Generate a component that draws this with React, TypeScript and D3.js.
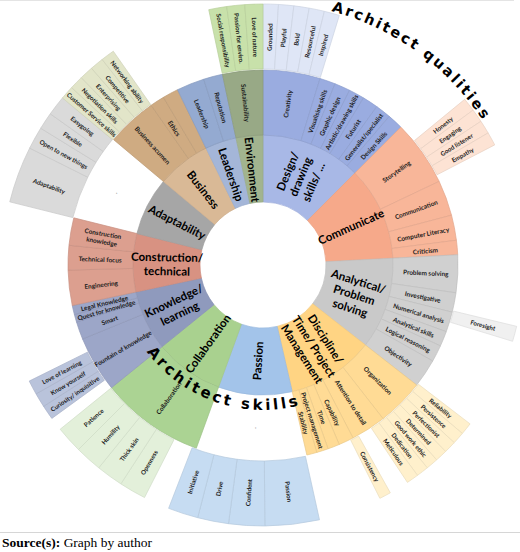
import React from 'react';
import * as d3 from 'd3';

const W = 520;
const H = 552;
const CX = 263;
const CY = 265;
const R0 = 63;
const R1 = 130;
const R2 = 195;
const R3 = 261;

// Level 1 – skill groups (clockwise from 12 o'clock)
const categories = [
  'Design/|drawing|skills/ ...', 'Communicate', 'Analytical/|Problem|solving',
  'Discipline/|Time/ Project|Management', 'Passion', 'Collaboration', 'Knowledge/|learning',
  'Construction/|technical', 'Adaptability', 'Business', 'Leadership', 'Environment'];
const categorySpans = [45, 42, 41, 39, 33, 31, 27, 26, 26, 24, 14, 12];
const ring1Colors = ['#a8b8e6', '#f6a98a', '#c9c9c9', '#ffd483', '#a3c4ea', '#a9d18f', '#8f9abd', '#d89282', '#a6a6a6', '#d9b996', '#a4b6d8', '#a2b48f'];
const ring2Colors = ['#9aace0', '#f8b699', '#d0d0d0', '#ffdb95', '#a3c4ea', '#abd393', '#9ca6c8', '#dc9f8f', '#a6a6a6', '#cfab82', '#94aad1', '#98a986'];
const ring3Colors = ['#dfe6f6', '#fde3d4', '#f0f0f0', '#fff0cc', '#c6dcf2', '#e3f0da', '#b9c3db', '#f0d6cf', '#dadada', '#e2e5c9', '#dbe3f1', '#c8e1aa'];

// Level 2 – skills
const skills = [
  'Creativity', 'Visualising skills', 'Graphic design', 'Artistic/drawing skills', 'Futurist', 'Generalist/specialist', 'Design Skills',
  'Storytelling', 'Communication', 'Computer Literacy', 'Criticism',
  'Problem solving', 'Investigative', 'Numerical analysis', 'Analytical skills', 'Logical reasoning', 'Objectivity',
  'Organization', 'Attention to detail', 'Capability', 'Time', 'Project management', 'Stability',
  '.',
  'Collaboration',
  'Fountain of knowledge', 'Smart', 'Quest for knowledge', 'Legal Knowledge',
  'Engineering', 'Technical focus', 'Construction|knowledge',
  '.',
  'Business acumen', 'Ethics', '',
  'Leadership', 'Reputation',
  'Sustainability'];
const skillSpans = [
  17, 4.67, 4.67, 4.67, 4.67, 4.66, 4.66,
  19.6, 10.6, 7.5, 4.3,
  11.2, 5.8, 6, 4.5, 5, 8.5,
  14, 10.5, 4.5, 3.5, 3.5, 3,
  33,
  31,
  16.7, 5.3, 2.3, 2.7,
  10.5, 7.3, 8.2,
  26,
  15, 4.3, 4.7,
  8.3, 5.7,
  12];
const skillGroups = [
  0, 0, 0, 0, 0, 0, 0,
  1, 1, 1, 1,
  2, 2, 2, 2, 2, 2,
  3, 3, 3, 3, 3, 3,
  -1,
  5,
  6, 6, 6, 6,
  7, 7, 7,
  -1,
  9, 9, 9,
  10, 10,
  11];

// Level 3 – qualities ('' = empty gap)
const qualities = [
  'Grounded', 'Playful', 'Bold', 'Resourceful', 'Inspired', '',
  'Honesty', 'Engaging', 'Good listener', 'Empathy', '',
  'Foresight', '',
  'Reliability', 'Persistence', 'Perfectionist', 'Determined', 'Good work ethic', 'Dedication', 'Meticulous', '',
  'Consistency', '',
  'Passion', 'Confident', 'Drive', 'Initiative', '',
  'Openness', 'Thick skin', 'Humility', 'Patience', '',
  'Curiosity/ inquisitive', 'Know yourself', 'Love of learning', '',
  'Adaptability', 'Open to new things', 'Flexible', 'Easygoing',
  'Customer Service skills', 'Negotiation skills', 'Enterprising', 'Competitive', 'Networking ability', '',
  'Social responsibility', 'Passion for enviro.', 'Love of nature'];
const qualitySpans = [
  3.4, 3.4, 3.4, 3.4, 3.4, 33.6,
  3, 3, 3, 3, 41,
  3.4, 20.5,
  2.7, 2.7, 2.7, 2.7, 2.7, 2.7, 2.7, 4.4,
  2.6, 14.1,
  12.1, 8, 6.9, 6.7, 5.8,
  6, 6, 6, 6, 3,
  3.2, 3.2, 3.2, 40.4,
  12.6, 5, 3.8, 4.4,
  3.04, 3.04, 3.04, 3.04, 3.04, 23,
  4, 4, 4];
const qualityGroups = [
  0, 0, 0, 0, 0, -1,
  1, 1, 1, 1, -1,
  2, -1,
  3, 3, 3, 3, 3, 3, 3, -1,
  3, -1,
  4, 4, 4, 4, -1,
  5, 5, 5, 5, -1,
  6, 6, 6, -1,
  8, 8, 8, 8,
  9, 9, 9, 9, 9, -1,
  11, 11, 11];

type Seg = { label: string; group: number; a0: number; a1: number };

function layout(labels: string[], spans: number[], groups: number[]): Seg[] {
  const pie = d3.pie<number>().sort(null).value((d) => d).startAngle(0).endAngle(2 * Math.PI).padAngle(0);
  const arcs = pie(spans);
  return arcs.map((a, i) => ({ label: labels[i], group: groups[i], a0: a.startAngle, a1: a.endAngle }));
}

function labelTransform(a0: number, a1: number, r: number) {
  const a = (a0 + a1) / 2;
  const x = CX + r * Math.sin(a);
  const y = CY - r * Math.cos(a);
  const deg = (a * 180) / Math.PI;
  const rot = deg < 180 ? deg - 90 : deg - 270;
  return `translate(${x.toFixed(2)},${y.toFixed(2)}) rotate(${rot.toFixed(2)})`;
}

function arcPath(r: number, degFrom: number, degTo: number, ccw: boolean) {
  const p = d3.path();
  const t0 = ((degFrom - 90) * Math.PI) / 180;
  const t1 = ((degTo - 90) * Math.PI) / 180;
  p.moveTo(CX + r * Math.cos(t0), CY + r * Math.sin(t0));
  p.arc(CX, CY, r, t0, t1, ccw);
  return p.toString();
}

function MultiLine({ text, lh }: { text: string; lh: number }) {
  const lines = text.split('|');
  return (
    <>
      {lines.map((l, i) => (
        <tspan key={i} x={0} y={(i - (lines.length - 1) / 2) * lh}>{l}</tspan>
      ))}
    </>
  );
}

export default function App() {
  const ring1 = layout(categories, categorySpans, categorySpans.map((_, i) => i));
  const ring2 = layout(skills, skillSpans, skillGroups);
  const ring3 = layout(qualities, qualitySpans, qualityGroups);

  const arc1 = d3.arc<any>().innerRadius(R0).outerRadius(R1);
  const arc2 = d3.arc<any>().innerRadius(R1).outerRadius(R2);
  const arc3 = d3.arc<any>().innerRadius(R2 + 1).outerRadius(R3);

  const mk = (s: Seg) => ({ startAngle: s.a0, endAngle: s.a1 });
  const stroke = (c: string, k: number) => (d3.color(c) as any).darker(k).formatHex();

  return (
    <svg width={W} height={H} style={{ position: 'absolute', left: 0, top: 0, background: '#fff' }}>
      <defs>
        <path id="qualPath" d={arcPath(263, 0, 72, false)} />
        <path id="skillPath" d={arcPath(145, 250, 148, true)} />
      </defs>
      <line x1={0} x2={514} y1={0.5} y2={0.5} stroke="#e4e4e4" />
      <line x1={0} x2={520} y1={532.5} y2={532.5} stroke="#d6d6d6" />
      <g>
        {ring1.map((s, i) => (
          <path key={'r1' + i} transform={`translate(${CX},${CY})`} d={arc1(mk(s)) as string}
            fill={ring1Colors[s.group]} stroke={stroke(ring1Colors[s.group], 0.15)} strokeWidth={0.7} />
        ))}
        {ring2.map((s, i) => s.group < 0 ? null : (
          <path key={'r2' + i} transform={`translate(${CX},${CY})`} d={arc2(mk(s)) as string}
            fill={ring2Colors[s.group]} stroke={stroke(ring2Colors[s.group], 0.25)} strokeWidth={0.7} />
        ))}
        {ring3.map((s, i) => s.group < 0 ? null : (
          <path key={'r3' + i} transform={`translate(${CX},${CY})`} d={arc3(mk(s)) as string}
            fill={ring3Colors[s.group]} stroke={stroke(ring3Colors[s.group], 0.25)} strokeWidth={0.7} />
        ))}
      </g>
      <g fontFamily="Lato, 'Open Sans', sans-serif" fill="#000" textAnchor="middle" dominantBaseline="central">
        {ring1.map((s, i) => (
          <text key={'l1' + i} transform={labelTransform(s.a0, s.a1, 96)} fontSize={11.5} fontWeight={700}>
            <MultiLine text={s.label} lh={14} />
          </text>
        ))}
        {ring2.map((s, i) => s.label === '' ? null : (
          <text key={'l2' + i} transform={labelTransform(s.a0, s.a1, 163)} fontSize={6.4} fontWeight={700}
            fill={s.group < 0 ? '#888' : '#1a1a1a'}>
            <MultiLine text={s.label} lh={8} />
          </text>
        ))}
        {ring3.map((s, i) => s.group < 0 || s.label === '' ? null : (
          <text key={'l3' + i} transform={labelTransform(s.a0, s.a1, 228)} fontSize={6.2} fontWeight={700} fill="#1a1a1a">
            {s.label}
          </text>
        ))}
      </g>
      <g fontFamily="'DejaVu Sans', sans-serif" fontWeight={700} fill="#000">
        <text fontSize={14.5} letterSpacing={2.2}>
          <textPath href="#qualPath" startOffset="50%" textAnchor="middle">Architect qualities</textPath>
        </text>
        <text fontSize={15} letterSpacing={3}>
          <textPath href="#skillPath" startOffset="50%" textAnchor="middle">Architect skills</textPath>
        </text>
      </g>
      <text x={2} y={547} fontFamily="'Liberation Serif', 'Times New Roman', serif" fontSize={13.5} fill="#000">
        <tspan fontWeight={700}>Source(s):</tspan> Graph by author
      </text>
    </svg>
  );
}
